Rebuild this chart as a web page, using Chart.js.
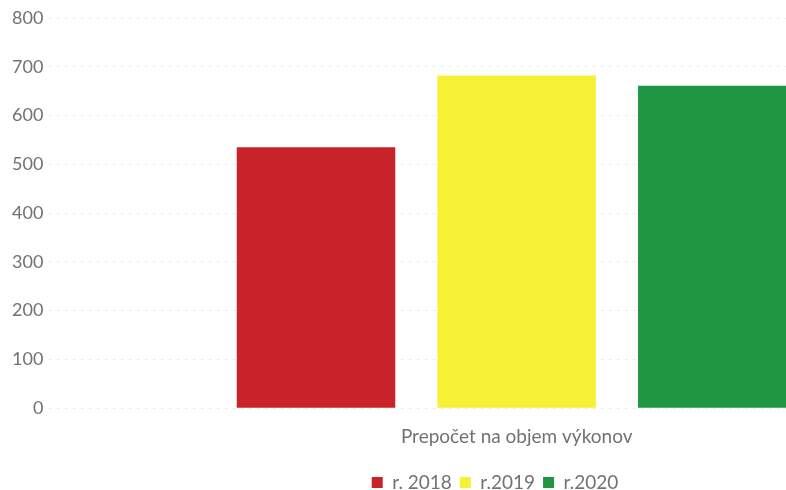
<!DOCTYPE html>
<html>
<head>
<meta charset="utf-8">
<script src="https://cdn.jsdelivr.net/npm/chart.js@4/dist/chart.umd.min.js"></script>
<style>
  html, body { margin: 0; padding: 0; background: #fff; overflow: hidden; width: 786px; height: 490px; }
  #wrap { width: 996px; height: 502px; }
</style>
</head>
<body>
<div id="wrap"><canvas id="c" width="996" height="502"></canvas></div>
<script>
// Category and series data
const categories = ['Prepočet na objem výkonov'];
const seriesLabels = ['r. 2018', 'r.2019', 'r.2020'];
const values2018 = [535];
const values2019 = [682];
const values2020 = [661];
const yTicks = [0, 100, 200, 300, 400, 500, 600, 700, 800];

const colors = ['#c8232b', '#f6f135', '#1f9641'];
const seriesValues = [values2018, values2019, values2020];

const textColor = '#727272';
const fontFamily = 'Lato, "Open Sans", sans-serif';

new Chart(document.getElementById('c'), {
  type: 'bar',
  data: {
    labels: categories,
    datasets: seriesLabels.map((lbl, i) => ({
      label: lbl,
      data: seriesValues[i],
      backgroundColor: colors[i],
      borderWidth: 0,
      categoryPercentage: 0.644,
      barPercentage: 0.79
    }))
  },
  options: {
    responsive: false,
    animation: false,
    layout: { padding: { top: 18, right: 12, left: 6, bottom: 0 } },
    plugins: {
      tooltip: { enabled: false },
      legend: {
        position: 'bottom',
        labels: {
          boxWidth: 11,
          boxHeight: 11,
          padding: 8,
          color: textColor,
          font: { family: fontFamily, size: 19 }
        }
      }
    },
    scales: {
      x: {
        grid: { display: false, drawTicks: false },
        border: { display: false },
        ticks: { color: textColor, font: { family: fontFamily, size: 19 }, padding: 17 }
      },
      y: {
        min: 0,
        max: 800,
        afterBuildTicks: (axis) => { axis.ticks = yTicks.map(v => ({ value: v })); },
        grid: { color: '#ececec', drawTicks: false, lineWidth: 1 },
        border: { display: false, dash: [3, 5] },
        ticks: { color: textColor, font: { family: fontFamily, size: 18 }, padding: 6 }
      }
    }
  }
});
</script>
</body>
</html>
